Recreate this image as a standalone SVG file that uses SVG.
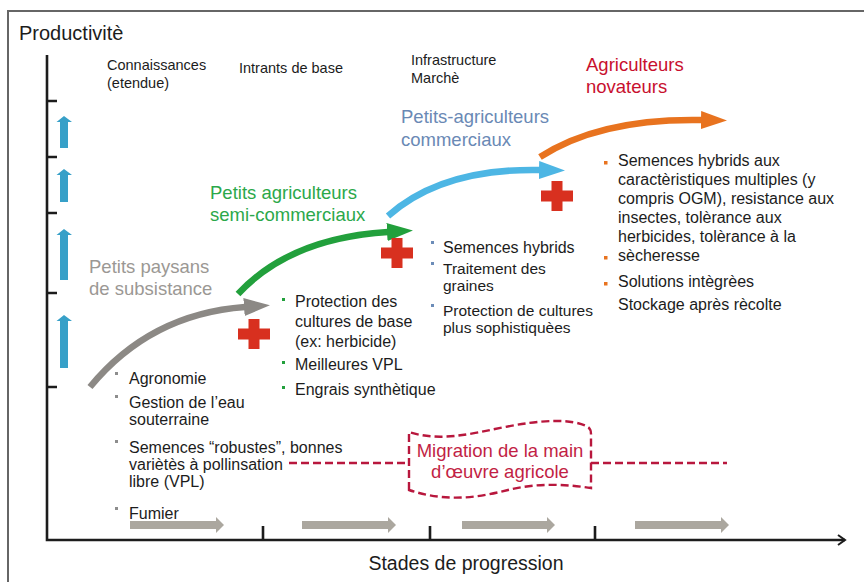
<svg xmlns="http://www.w3.org/2000/svg" width="864" height="582" viewBox="0 0 864 582">
  <defs>
    <style>
      text { font-family: "Liberation Sans", Arial, sans-serif; fill: #1c1c1c; }
      .title { font-size: 20px; }
      .head { font-size: 14.5px; }
      .item { font-size: 16px; }
      .tight { font-size: 15.5px; }
      .grp { font-size: 18.5px; }
      .axis { stroke: #1c1c1c; stroke-width: 2.6; fill: none; }
      .up { fill: #37a0c8; }
      .step { fill: #aba79f; }
      .cross { fill: #d8301f; }
      .mig { stroke: #b8173d; stroke-width: 2.4; stroke-dasharray: 8 4; fill: none; }
      .curve { fill: none; stroke-width: 6.5; }
    </style>
    <marker id="hGray" viewBox="0 0 26 18" refX="1" refY="9" markerWidth="26" markerHeight="18" markerUnits="userSpaceOnUse" orient="auto">
      <path d="M0,0 L26,9 L0,18 Z" fill="#8c8985"/>
    </marker>
    <marker id="hGreen" viewBox="0 0 26 18" refX="1" refY="9" markerWidth="26" markerHeight="18" markerUnits="userSpaceOnUse" orient="auto">
      <path d="M0,0 L26,9 L0,18 Z" fill="#22a03c"/>
    </marker>
    <marker id="hBlue" viewBox="0 0 26 18" refX="1" refY="9" markerWidth="26" markerHeight="18" markerUnits="userSpaceOnUse" orient="auto">
      <path d="M0,0 L26,9 L0,18 Z" fill="#4db6e4"/>
    </marker>
    <marker id="hOrange" viewBox="0 0 26 18" refX="1" refY="9" markerWidth="26" markerHeight="18" markerUnits="userSpaceOnUse" orient="auto">
      <path d="M0,0 L26,9 L0,18 Z" fill="#e8731f"/>
    </marker>
    <path id="cross" d="M-5.5,-15 H5.5 V-5.5 H16 V5.5 H5.5 V15 H-5.5 V5.5 H-16 V-5.5 H-5.5 Z"/>
  </defs>

  <rect width="864" height="582" fill="#ffffff"/>
  <!-- outer frame -->
  <path d="M8,582 V11 H864" fill="none" stroke="#666666" stroke-width="2"/>
  <text class="title" x="19" y="40">Productivitè</text>

  <!-- axes -->
  <g id="axes">
    <path class="axis" d="M47,55 V540 H845"/>
    <path class="axis" d="M47,101 H57 M47,157 H57 M47,213 H57 M47,293 H57 M47,387 H57"/>
    <path class="axis" d="M263,526 V540 M430,526 V540 M595,526 V540"/>
    <path d="M838,535 L845,540 L838,545" fill="none" stroke="#1c1c1c" stroke-width="2"/>
    <text x="466" y="570" text-anchor="middle" style="font-size:19.5px">Stades de progression</text>
  </g>

  <!-- productivity steps -->
  <g id="up-arrows">
    <path class="up" d="M60,148 V122 H56.5 L64,116 L72,122 H68 V148 Z"/>
    <path class="up" d="M60,202 V175 H56.5 L64,169 L72,175 H68 V202 Z"/>
    <path class="up" d="M60,280 V235 H56.5 L64,229 L72,235 H68 V280 Z"/>
    <path class="up" d="M60,368 V321 H56.5 L64,315 L72,321 H68 V368 Z"/>
  </g>

  <!-- stage arrows along the x axis -->
  <g id="stage-arrows">
    <path class="step" d="M130,521 H216 V517 L224,525 L216,533 V529 H130 Z"/>
    <path class="step" d="M302,521 H388 V517 L396,525 L388,533 V529 H302 Z"/>
    <path class="step" d="M462,521 H547 V517 L555,525 L547,533 V529 H462 Z"/>
    <path class="step" d="M635,521 H721 V517 L729,525 L721,533 V529 H635 Z"/>
  </g>

  <!-- column headings -->
  <g id="headings">
    <text class="head" x="107" y="70">Connaissances</text>
    <text class="head" x="107" y="88">(etendue)</text>
    <text class="head" x="239" y="73">Intrants de base</text>
    <text class="head" x="411" y="65">Infrastructure</text>
    <text class="head" x="411" y="83">Marchè</text>
  </g>

  <!-- farmer groups -->
  <g id="subsistance">
    <text class="grp" x="89" y="273" style="fill:#9b9894">Petits paysans</text>
    <text class="grp" x="89" y="295" style="fill:#9b9894">de subsistance</text>
  </g>
  <g id="semi-commerciaux">
    <text class="grp" x="210" y="199" style="fill:#2ba84a">Petits agriculteurs</text>
    <text class="grp" x="210" y="221" style="fill:#2ba84a">semi-commerciaux</text>
  </g>
  <g id="commerciaux">
    <text class="grp" x="401" y="123" style="fill:#6a89b5">Petits-agriculteurs</text>
    <text class="grp" x="401" y="146" style="fill:#6a89b5">commerciaux</text>
  </g>
  <g id="novateurs">
    <text class="grp" x="586" y="71" style="fill:#c8102e">Agriculteurs</text>
    <text class="grp" x="586" y="93" style="fill:#c8102e">novateurs</text>
  </g>

  <!-- progression connectors -->
  <g id="connectors">
    <path class="curve" d="M90,387 Q150,314 245,307" stroke="#8c8985" marker-end="url(#hGray)"/>
    <path class="curve" d="M238,294 Q290,238 388,232" stroke="#22a03c" marker-end="url(#hGreen)"/>
    <path class="curve" d="M388,216 Q442,168 540,170" stroke="#4db6e4" marker-end="url(#hBlue)"/>
    <path class="curve" d="M540,157 Q600,118 702,120" stroke="#e8731f" marker-end="url(#hOrange)"/>
    <path class="mig" d="M289,463 H409"/>
    <path class="mig" d="M591,463 H727"/>
  </g>

  <!-- added inputs -->
  <g id="crosses">
    <use href="#cross" class="cross" x="254" y="334"/>
    <use href="#cross" class="cross" x="397" y="253"/>
    <use href="#cross" class="cross" x="557" y="196"/>
  </g>

  <!-- practices per stage -->
  <g id="list-subsistance">
    <g fill="#8d8d8d">
      <rect x="115" y="372" width="3" height="3"/>
      <rect x="115" y="395" width="3" height="3"/>
      <rect x="115" y="440" width="3" height="3"/>
      <rect x="115" y="507" width="3" height="3"/>
    </g>
    <text class="item" x="129" y="384">Agronomie</text>
    <text class="item" x="129" y="408">Gestion de l’eau</text>
    <text class="item" x="129" y="425">souterraine</text>
    <text class="item" x="129" y="453">Semences “robustes”, bonnes</text>
    <text class="item" x="129" y="470">variètès à pollinsation</text>
    <text class="item" x="129" y="487">libre (VPL)</text>
    <text class="item" x="129" y="519">Fumier</text>
  </g>
  <g id="list-semi">
    <g fill="#22a03c">
      <rect x="282" y="298" width="3" height="3"/>
      <rect x="282" y="361" width="3" height="3"/>
      <rect x="282" y="386" width="3" height="3"/>
    </g>
    <text class="item" x="295" y="307">Protection des</text>
    <text class="item" x="295" y="327">cultures de base</text>
    <text class="item" x="295" y="347">(ex: herbicide)</text>
    <text class="item" x="295" y="370">Meilleures VPL</text>
    <text class="item" x="295" y="395">Engrais synthètique</text>
  </g>
  <g id="list-commerciaux">
    <g fill="#6c8cb8">
      <rect x="431" y="241" width="3" height="3"/>
      <rect x="431" y="262" width="3" height="3"/>
      <rect x="431" y="304" width="3" height="3"/>
    </g>
    <text class="item" x="443" y="253">Semences hybrids</text>
    <text class="tight" x="443" y="274">Traitement des</text>
    <text class="tight" x="443" y="291">graines</text>
    <text class="tight" x="443" y="316">Protection de cultures</text>
    <text class="tight" x="443" y="333">plus sophistiquèes</text>
  </g>
  <g id="list-novateurs">
    <g fill="#e8731f">
      <rect x="604" y="161" width="3.5" height="3.5"/>
      <rect x="604" y="256" width="3.5" height="3.5"/>
      <rect x="604" y="282" width="3.5" height="3.5"/>
    </g>
    <text class="item" x="618" y="166">Semences hybrids aux</text>
    <text class="item" x="618" y="185">caractèristiques multiples (y</text>
    <text class="item" x="618" y="204">compris OGM), resistance aux</text>
    <text class="item" x="618" y="223">insectes, tolèrance aux</text>
    <text class="item" x="618" y="242">herbicides, tolèrance à la</text>
    <text class="item" x="618" y="261">sècheresse</text>
    <text class="item" x="618" y="287">Solutions intègrèes</text>
    <text class="item" x="618" y="310">Stockage après rècolte</text>
  </g>

  <!-- labour migration -->
  <g id="migration">
    <path class="mig" d="M409,490 V432 C440,442 470,434 505,427 C540,420 572,418 588,427 Q591,429 591,434 V488 C565,484 535,483 508,490 C480,497 448,503 409,490 Z"/>
    <text x="500" y="457" text-anchor="middle" style="font-size:18.5px;fill:#c21f45">Migration de la main</text>
    <text x="500" y="478" text-anchor="middle" style="font-size:18.5px;fill:#c21f45">d’œuvre agricole</text>
  </g>
</svg>
